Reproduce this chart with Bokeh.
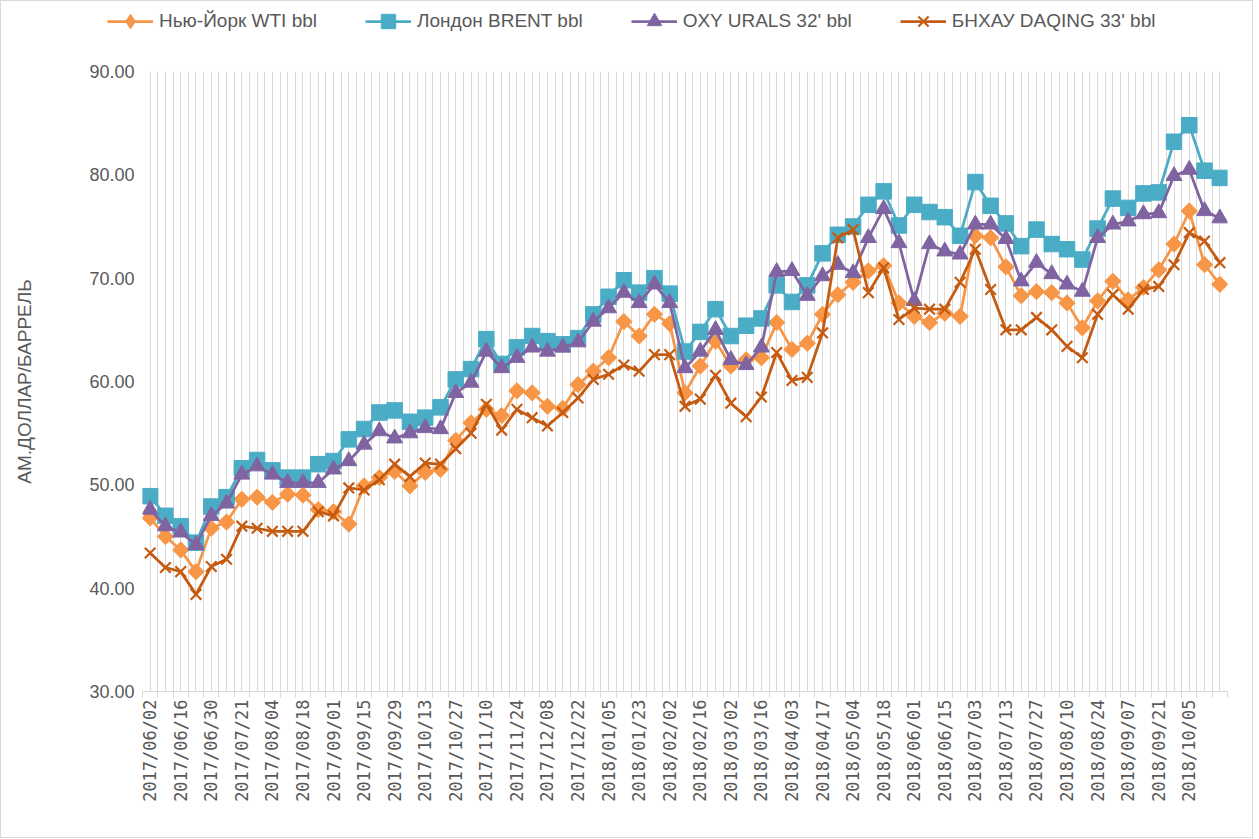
from math import pi
from bokeh.plotting import figure
from bokeh.layouts import column
from bokeh.models import FixedTicker, Legend, LegendItem, Range1d, NumeralTickFormatter
from bokeh.embed import file_html
from bokeh.resources import INLINE

dates = [
    "2017/06/02", "2017/06/09", "2017/06/16", "2017/06/23", "2017/06/30", "2017/07/14",
    "2017/07/21", "2017/07/28", "2017/08/04", "2017/08/11", "2017/08/18", "2017/08/25",
    "2017/09/01", "2017/09/08", "2017/09/15", "2017/09/22", "2017/09/29", "2017/10/06",
    "2017/10/13", "2017/10/20", "2017/10/27", "2017/11/03", "2017/11/10", "2017/11/17",
    "2017/11/24", "2017/12/01", "2017/12/08", "2017/12/15", "2017/12/22", "2017/12/29",
    "2018/01/05", "2018/01/12", "2018/01/23", "2018/01/26", "2018/02/02", "2018/02/09",
    "2018/02/16", "2018/02/23", "2018/03/02", "2018/03/09", "2018/03/16", "2018/03/23",
    "2018/04/03", "2018/04/10", "2018/04/17", "2018/04/27", "2018/05/04", "2018/05/11",
    "2018/05/18", "2018/05/25", "2018/06/01", "2018/06/08", "2018/06/15", "2018/06/22",
    "2018/07/03", "2018/07/06", "2018/07/13", "2018/07/20", "2018/07/27", "2018/08/03",
    "2018/08/10", "2018/08/17", "2018/08/24", "2018/08/31", "2018/09/07", "2018/09/14",
    "2018/09/21", "2018/09/28", "2018/10/05", "2018/10/12", "2018/10/19",
]

wti = [
    46.8, 45.0, 43.7, 41.6, 45.8, 46.4, 48.6, 48.8, 48.3, 49.1, 49.0, 47.6, 47.4, 46.2,
    49.9, 50.7, 51.3, 49.9, 51.2, 51.5, 54.3, 56.0, 57.3, 56.7, 59.1, 58.9, 57.6, 57.4,
    59.7, 61.0, 62.3, 65.8, 64.4, 66.5, 65.6, 58.9, 61.5, 63.9, 61.5, 62.1, 62.3, 65.7,
    63.1, 63.7, 66.5, 68.4, 69.6, 70.7, 71.2, 67.6, 66.3, 65.7, 66.6, 66.3, 74.1, 73.9,
    71.1, 68.3, 68.7, 68.6, 67.6, 65.2, 67.8, 69.7, 67.9, 69.1, 70.8, 73.3, 76.5, 71.3,
    69.4,
]

brent = [
    48.9, 47.0, 46.0, 44.4, 47.9, 48.8, 51.6, 52.4, 51.4, 50.7, 50.7, 52.0, 52.3, 54.4,
    55.4, 57.0, 57.2, 56.1, 56.5, 57.5, 60.2, 61.2, 64.1, 61.7, 63.3, 64.4, 63.9, 63.6,
    64.2, 66.5, 68.2, 69.8, 68.6, 70.0, 68.5, 62.9, 64.8, 67.0, 64.4, 65.4, 66.1, 69.3,
    67.7, 69.3, 72.4, 74.2, 75.0, 77.1, 78.4, 75.1, 77.1, 76.4, 75.9, 74.1, 79.3, 77.0,
    75.3, 73.1, 74.7, 73.3, 72.8, 71.8, 74.8, 77.7, 76.8, 78.2, 78.3, 83.2, 84.8, 80.4,
    79.7,
]

urals = [
    47.6, 46.0, 45.4, 44.2, 47.0, 48.2, 51.0, 51.8, 51.0, 50.2, 50.2, 50.2, 51.5, 52.3,
    53.9, 55.2, 54.5, 55.0, 55.5, 55.4, 58.9, 59.9, 62.9, 61.3, 62.3, 63.3, 62.9, 63.3,
    63.8, 65.8, 67.1, 68.6, 67.6, 69.4, 67.6, 61.3, 62.9, 65.0, 62.1, 61.6, 63.3, 70.6,
    70.7, 68.3, 70.2, 71.3, 70.5, 73.9, 76.7, 73.4, 67.8, 73.3, 72.6, 72.3, 75.2, 75.2,
    73.8, 69.7, 71.5, 70.4, 69.4, 68.7, 73.9, 75.2, 75.5, 76.2, 76.3, 79.9, 80.5, 76.5,
    75.8,
]

daqing = [
    43.4, 42.0, 41.6, 39.4, 42.1, 42.8, 46.0, 45.8, 45.5, 45.5, 45.5, 47.4, 47.0, 49.7,
    49.5, 50.5, 52.0, 50.8, 52.1, 52.0, 53.5, 55.0, 57.8, 55.3, 57.3, 56.5, 55.7, 57.0,
    58.4, 60.2, 60.7, 61.6, 61.0, 62.6, 62.6, 57.6, 58.3, 60.6, 57.9, 56.6, 58.5, 62.8,
    60.1, 60.4, 64.7, 73.9, 74.7, 68.6, 71.0, 66.0, 67.1, 67.0, 67.0, 69.6, 72.8, 68.9,
    65.0, 65.0, 66.2, 65.0, 63.4, 62.3, 66.5, 68.4, 67.0, 68.9, 69.2, 71.3, 74.4, 73.6,
    71.5,
]

series_names = ["Нью-Йорк WTI bbl", "Лондон BRENT bbl", "OXY URALS 32' bbl", "БНХАУ DAQING 33' bbl"]
y_title = "АМ.ДОЛЛАР/БАРРЕЛЬ"
y_ticks = [30, 40, 50, 60, 70, 80, 90]

x = list(range(len(dates)))
n = len(dates)
colors = ["#F79646", "#4BACC6", "#8064A2", "#C55A11"]
datasets = [wti, brent, urals, daqing]
markers = ["diamond", "square", "triangle", "x"]

W = 1251
H_LEG = 50

# ---------- legend strip (its own small figure above the chart) ----------
lf = figure(width=W, height=H_LEG, output_backend="svg", toolbar_location=None,
            x_axis_type=None, y_axis_type=None, x_range=Range1d(0, 1), y_range=Range1d(0, 1),
            min_border=0, min_border_left=0, min_border_right=0, min_border_top=0,
            min_border_bottom=0)
lf.frame_align = False
lf.outline_line_color = None
lf.grid.grid_line_color = None
lf.border_fill_color = "white"
items = []
for name, col, mk in zip(series_names, colors, markers):
    # legend-only renderers, placed outside the visible range of the strip
    ln = lf.line([-5, -4], [-5, -4], line_color=col, line_width=2.75)
    if mk == "x":
        sc = lf.scatter([-5], [-5], marker="x", size=15, line_color=col, line_width=2.2)
    else:
        sc = lf.scatter([-5], [-5], marker=mk, size=15, fill_color=col, line_color=col)
    items.append(LegendItem(label=name, renderers=[ln, sc]))
legend = Legend(items=items, orientation="horizontal", location=(106, 12),
                label_text_font="Liberation Sans", label_text_font_size="19px",
                label_text_color="#595959", glyph_width=46, glyph_height=36,
                label_standoff=6, spacing=48, padding=0, margin=0,
                border_line_color=None, background_fill_alpha=0)
lf.add_layout(legend, "center")

# ---------- main chart ----------
p = figure(width=W, height=836 - H_LEG, output_backend="svg", toolbar_location=None,
           x_range=Range1d(-0.5, n - 0.5), y_range=Range1d(30, 90),
           min_border_left=141, min_border_right=25, min_border_top=20, min_border_bottom=146)
p.frame_align = False
p.outline_line_color = None
p.background_fill_color = "white"
p.border_fill_color = "white"

p.ygrid.grid_line_color = None
p.xgrid.ticker = FixedTicker(ticks=[k * 0.5 for k in range(-1, 2 * n)])
p.xgrid.grid_line_color = "#d9d9d9"
p.xgrid.grid_line_width = 1

xt = list(range(0, n - 1, 2))
p.xaxis.ticker = FixedTicker(ticks=xt, minor_ticks=[i - 0.5 for i in range(n + 1)])
p.xaxis.major_label_overrides = {i: dates[i] for i in xt}
p.xaxis.major_label_orientation = pi / 2
p.xaxis.major_label_text_font = "DejaVu Sans Mono"
p.xaxis.major_label_text_font_size = "17px"
p.xaxis.major_label_text_color = "#595959"
p.xaxis.major_tick_line_color = None
p.xaxis.major_tick_out = 6
p.xaxis.minor_tick_line_color = "#d9d9d9"
p.xaxis.minor_tick_out = 6
p.xaxis.minor_tick_in = 0
p.xaxis.axis_line_color = "#d9d9d9"
p.xaxis.major_label_standoff = 2

p.yaxis.ticker = FixedTicker(ticks=y_ticks)
p.yaxis.formatter = NumeralTickFormatter(format="0.00")
p.yaxis.major_label_text_font = "Liberation Sans"
p.yaxis.major_label_text_font_size = "18px"
p.yaxis.major_label_text_color = "#595959"
p.yaxis.axis_line_color = None
p.yaxis.major_tick_line_color = None
p.yaxis.major_tick_out = 0
p.yaxis.major_tick_in = 0
p.yaxis.minor_tick_line_color = None
p.yaxis.minor_tick_out = 0
p.yaxis.major_label_standoff = 8
p.yaxis.axis_label = y_title
p.yaxis.axis_label_text_font = "Liberation Sans"
p.yaxis.axis_label_text_font_size = "19px"
p.yaxis.axis_label_text_font_style = "normal"
p.yaxis.axis_label_text_color = "#595959"
p.yaxis.axis_label_standoff = 51

for data, col, mk in zip(datasets, colors, markers):
    p.line(x, data, line_color=col, line_width=2.75)
    if mk == "diamond":
        p.scatter(x, data, marker="square", angle=pi / 4, size=11.5,
                  fill_color=col, line_color=col)
    elif mk == "square":
        p.scatter(x, data, marker="square", size=15.5, fill_color=col, line_color=col)
    elif mk == "triangle":
        p.scatter(x, data, marker="triangle", size=16, fill_color=col, line_color=col)
    else:
        p.scatter(x, data, marker="x", size=15, line_color=col, line_width=2.2)

layout = column(lf, p, spacing=0)
layout.styles = {"border": "1px solid #d9d9d9"}

open("out.html", "w").write(file_html(layout, INLINE))
